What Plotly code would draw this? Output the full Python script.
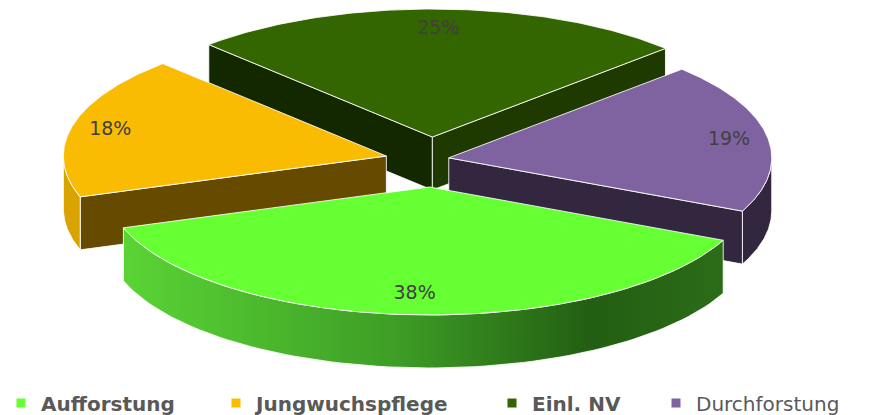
import numpy as np
import plotly.graph_objects as go

# ---- data ----
categories = ["Aufforstung", "Jungwuchspflege", "Einl. NV", "Durchforstung"]
values = [38, 18, 25, 19]
legend_bold = [True, True, True, False]

# ---- style ----
top_colors = ["#66FF33", "#FABC02", "#336600", "#7F63A0"]
arc_side_colors = [None, "#D9A300", "#1E3A00", "#33273F"]
start_face_colors = ["#2E7A18", "#654A00", "#142800", "#33273F"]
end_face_colors = ["#2E7A18", "#654A00", "#1F3A00", "#33273F"]
green_gradient = [[0, "#5AD435"], [0.45, "#3E9E26"], [0.78, "#235E12"], [1, "#2C6C18"]]

PAGE_OFFSET = 8                 # default body margin of the html page
W, H = 885 - PAGE_OFFSET, 415 - PAGE_OFFSET
CX, CY = 432, 162               # window pixel coordinates
RX, RY = 323, 128
DEPTH = 53
EX_LEFT, EX_RIGHT, EY = 47, 17, 25     # explode offsets (px)
FIRST_MID = 267.0
LRX, LRY = 0.88, 0.84
EDGE = "rgba(255,255,255,0.85)"
FONT = "DejaVu Sans, Open Sans, sans-serif"
LEGEND_MARKER_PX = [22, 237, 513, 677]   # legend marker centre x (window px)
LEGEND_OFFSET_PX = 21                    # marker centre offset inside a legend box
LEGEND_CENTER_Y = 403                    # window px

total = float(sum(values))
spans = [v / total * 360.0 for v in values]
start = FIRST_MID + spans[0] / 2.0  # clockwise from here

slices = []
a = start
for i, sp in enumerate(spans):
    b = a - sp
    m = (a + b) / 2.0
    c = np.cos(np.radians(m))
    ax = CX + (EX_LEFT if c < 0 else EX_RIGHT) * c
    ay = CY - EY * np.sin(np.radians(m))
    slices.append(dict(i=i, a=a, b=b, m=m, ax=ax, ay=ay))
    a = b


def rim(s, th):
    t = np.radians(th)
    return s["ax"] + RX * np.cos(t), s["ay"] - RY * np.sin(t)


fig = go.Figure()


def poly(xs, ys, color, grad=None):
    kw = dict(x=list(xs) + [xs[0]], y=list(ys) + [ys[0]], mode="lines", fill="toself",
              line=dict(color=EDGE, width=1), hoverinfo="skip", showlegend=False)
    if grad is not None:
        kw["fillgradient"] = dict(type="horizontal", colorscale=grad)
    else:
        kw["fillcolor"] = color
    fig.add_trace(go.Scatter(**kw))


order = sorted(slices, key=lambda s: s["ay"])
for s in order:
    i = s["i"]
    # radial (cut) faces that face the viewer
    for phi, vis, col in [(s["a"], np.cos(np.radians(s["a"])) < 0, start_face_colors[i]),
                          (s["b"], np.cos(np.radians(s["b"])) > 0, end_face_colors[i])]:
        if vis:
            rx_, ry_ = rim(s, phi)
            poly([s["ax"], rx_, rx_, s["ax"]], [s["ay"], ry_, ry_ + DEPTH, s["ay"] + DEPTH], col)
    # outer arc side (front-facing part)
    for k in (-1, 0, 1):
        lo = max(s["b"], k * 360 + 180)
        hi = min(s["a"], k * 360 + 360)
        if hi > lo:
            th = np.linspace(lo, hi, 80)
            xs, ys = rim(s, th)
            px = list(xs) + list(xs[::-1])
            py = list(ys) + list((ys + DEPTH)[::-1])
            if arc_side_colors[i] is None:
                poly(px, py, None, grad=green_gradient)
            else:
                poly(px, py, arc_side_colors[i])
    # top face
    th = np.linspace(s["b"], s["a"], 120)
    xs, ys = rim(s, th)
    poly([s["ax"]] + list(xs), [s["ay"]] + list(ys), top_colors[i])

# percentage labels
lx, ly, lt = [], [], []
for s in slices:
    t = np.radians(s["m"])
    lx.append(s["ax"] + LRX * RX * np.cos(t))
    ly.append(s["ay"] - LRY * RY * np.sin(t))
    lt.append(f"{round(values[s['i']] / total * 100)}%")
fig.add_trace(go.Scatter(x=lx, y=ly, text=lt, mode="text", showlegend=False, hoverinfo="skip",
                         textfont=dict(family=FONT, size=19, color="#404040")))

# legend entries, each in its own legend box
legend_layout = {}
for k, (cat, col, bold) in enumerate(zip(categories, top_colors, legend_bold)):
    lname = "legend" if k == 0 else f"legend{k + 1}"
    fig.add_trace(go.Scatter(x=[None], y=[None], mode="markers",
                             marker=dict(symbol="square", size=9, color=col),
                             name=f"<b>{cat}</b>" if bold else cat, legend=lname))
    legend_layout[lname] = dict(
        orientation="h",
        x=(LEGEND_MARKER_PX[k] - PAGE_OFFSET - LEGEND_OFFSET_PX) / W,
        y=(PAGE_OFFSET + H - LEGEND_CENTER_Y) / H,
        xanchor="left", yanchor="middle",
        font=dict(family=FONT, size=20, color="#595959"),
        bgcolor="rgba(0,0,0,0)")

fig.update_layout(
    width=W, height=H, margin=dict(l=0, r=0, t=0, b=0, autoexpand=False),
    paper_bgcolor="white", plot_bgcolor="white",
    xaxis=dict(range=[PAGE_OFFSET, PAGE_OFFSET + W], visible=False, fixedrange=True),
    yaxis=dict(range=[PAGE_OFFSET + H, PAGE_OFFSET], visible=False, fixedrange=True),
    **legend_layout,
)

fig.write_html("out.html")
